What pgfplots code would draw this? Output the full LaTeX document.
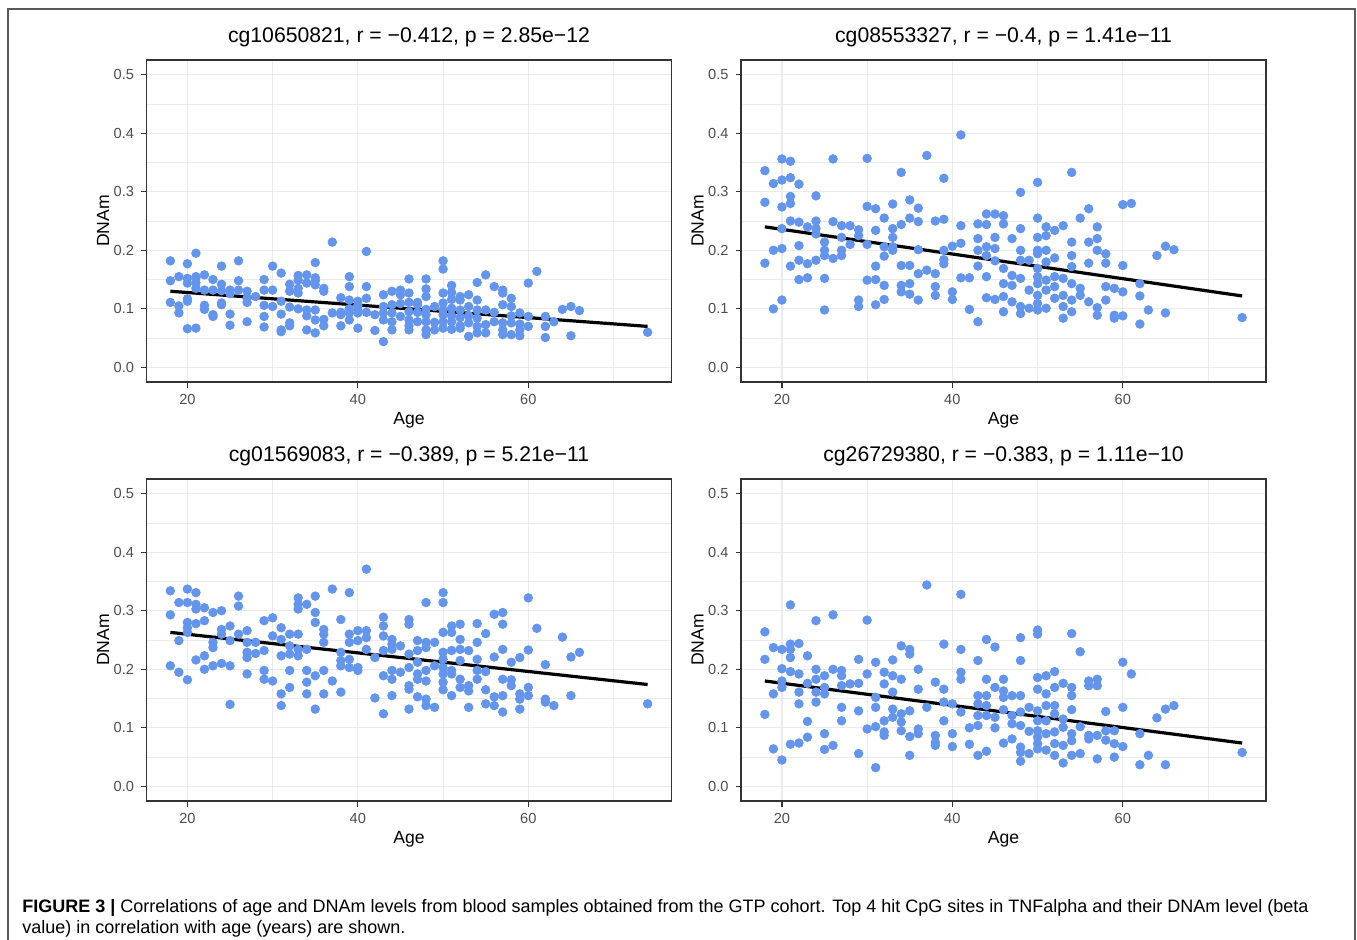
\documentclass[border=0pt]{standalone}
\usepackage{fontspec}
\setmainfont{Liberation Sans}
\usepackage{pgfplots}
\pgfplotsset{compat=1.18}
\definecolor{cfblue}{RGB}{100,149,237}
\definecolor{grid92}{RGB}{235,235,235}
\definecolor{grey20}{RGB}{51,51,51}
\definecolor{grey30}{RGB}{77,77,77}
\definecolor{framegray}{RGB}{90,90,90}

\pgfplotsset{
  panel/.style={
    scale only axis, width=262.5pt, height=161pt,
    xmin=15.2, xmax=76.8, ymin=-0.025, ymax=0.525,
    xtick={20,40,60}, minor xtick={30,50,70},
    ytick={0,0.1,0.2,0.3,0.4,0.5}, minor ytick={0.05,0.15,0.25,0.35,0.45},
    grid=both,
    major grid style={grid92, line width=0.6pt},
    minor grid style={grid92, line width=0.3pt},
    axis line style={grey20, line width=0.8pt},
    tick align=outside, tick pos=left,
    major tick length=2.75pt, minor tick length=0pt,
    tick style={grey20, line width=0.6pt},
    ticklabel style={font=\fontsize{7.3}{8}\selectfont, text=grey30},
    /pgf/number format/assume math mode=true,
    yticklabel style={/pgf/number format/fixed, /pgf/number format/fixed zerofill,
      /pgf/number format/precision=1},
    xlabel={Age}, ylabel={DNAm},
    label style={font=\fontsize{8.8}{10}\selectfont},
    xlabel style={at={(axis description cs:0.5,-0.1335)}, anchor=base},
    ylabel style={at={(axis description cs:-0.0714,0.5)}, anchor=base},
    title style={at={(axis description cs:0.5,1.0156)}, anchor=base,
      font=\fontsize{10.6}{12}\selectfont},
  },
  pts/.style={only marks, mark=*, mark size=2.15pt, cfblue, mark options={draw=cfblue, fill=cfblue}},
  fit/.style={black, line width=1.6pt, no marks},
}

\begin{document}
\begin{tikzpicture}
\useasboundingbox (0pt,0pt) rectangle (678.5pt,-469.5pt);
\draw[framegray, line width=0.75pt] (4pt,-470pt) -- (4pt,-4.5pt) -- (677.5pt,-4.5pt) -- (677.5pt,-470pt);

% top left
\begin{axis}[panel, at={(73.25pt,-191pt)}, anchor=south west,
  title={cg10650821, r = −0.412, p = 2.85e−12}]
\addplot[pts] coordinates {
(18,0.182) (18,0.148) (18,0.111) (19,0.155) (19,0.105) (19,0.093)
(20,0.177) (20,0.152) (20,0.144) (20,0.117) (20,0.113) (20,0.066)
(21,0.195) (21,0.155) (21,0.153) (21,0.144) (21,0.135) (21,0.067)
(22,0.158) (22,0.132) (22,0.106) (22,0.099) (23,0.150) (23,0.132) (23,0.090) (23,0.087)
(24,0.173) (24,0.142) (24,0.131) (24,0.110) (24,0.107) (25,0.132) (25,0.126) (25,0.091) (25,0.072)
(26,0.182) (26,0.148) (26,0.132) (27,0.130) (27,0.118) (27,0.111) (27,0.078) (28,0.121)
(29,0.150) (29,0.132) (29,0.106) (29,0.087) (29,0.069) (30,0.173) (30,0.132) (30,0.104)
(31,0.161) (31,0.113) (31,0.091) (31,0.064) (31,0.061) (32,0.142) (32,0.130) (32,0.103) (32,0.076) (32,0.071)
(33,0.157) (33,0.149) (33,0.135) (33,0.127) (33,0.100) (34,0.158) (34,0.144) (34,0.098) (34,0.088) (34,0.064)
(35,0.179) (35,0.153) (35,0.148) (35,0.141) (35,0.098) (35,0.081) (35,0.059)
(36,0.135) (36,0.130) (36,0.082) (36,0.071) (37,0.214) (37,0.093)
(38,0.119) (38,0.094) (38,0.090) (38,0.071) (39,0.155) (39,0.138) (39,0.115) (39,0.100) (39,0.093) (39,0.081)
(40,0.113) (40,0.106) (40,0.098) (40,0.093) (40,0.067) (41,0.198) (41,0.138) (41,0.118) (41,0.094)
(42,0.090) (42,0.063) (43,0.124) (43,0.104) (43,0.093) (43,0.081) (43,0.044)
(44,0.130) (44,0.107) (44,0.093) (44,0.078) (44,0.064) (45,0.132) (45,0.124) (45,0.109) (45,0.087)
(46,0.151) (46,0.127) (46,0.111) (46,0.095) (46,0.081) (46,0.071) (46,0.064)
(47,0.111) (47,0.107) (47,0.094) (47,0.078)
(48,0.151) (48,0.134) (48,0.121) (48,0.099) (48,0.090) (48,0.078) (48,0.064) (48,0.056)
(49,0.104) (49,0.077) (49,0.064)
(50,0.182) (50,0.168) (50,0.127) (50,0.110) (50,0.098) (50,0.090) (50,0.078) (50,0.067)
(51,0.140) (51,0.128) (51,0.116) (51,0.101) (51,0.088) (51,0.078) (51,0.065)
(52,0.121) (52,0.115) (52,0.098) (52,0.085) (52,0.071) (52,0.067)
(53,0.124) (53,0.104) (53,0.088) (53,0.076) (53,0.053)
(54,0.145) (54,0.115) (54,0.098) (54,0.084) (54,0.070) (54,0.059)
(55,0.158) (55,0.098) (55,0.073) (55,0.059) (56,0.138) (56,0.094) (56,0.078)
(57,0.132) (57,0.127) (57,0.107) (57,0.076) (57,0.064) (57,0.056)
(58,0.118) (58,0.104) (58,0.088) (58,0.076) (58,0.056) (59,0.093) (59,0.074) (59,0.064) (59,0.054)
(60,0.144) (60,0.087) (60,0.070) (61,0.164) (62,0.087) (62,0.070) (62,0.051) (63,0.078)
(64,0.099) (65,0.104) (65,0.054) (66,0.097) (74,0.060)
};
\addplot[fit] coordinates {(18,0.130) (74,0.070)};
\end{axis}

% top right
\begin{axis}[panel, at={(370.5pt,-191pt)}, anchor=south west,
  title={cg08553327, r = −0.4, p = 1.41e−11}]
\addplot[pts] coordinates {
(18,0.336) (18,0.282) (18,0.178) (19,0.314) (19,0.200) (19,0.100)
(20,0.356) (20,0.320) (20,0.274) (20,0.237) (20,0.203) (20,0.115)
(21,0.352) (21,0.324) (21,0.292) (21,0.280) (21,0.250) (21,0.173)
(22,0.313) (22,0.248) (22,0.208) (22,0.183) (22,0.150) (23,0.240) (23,0.177) (23,0.153)
(24,0.293) (24,0.250) (24,0.237) (24,0.228) (24,0.183)
(25,0.214) (25,0.200) (25,0.191) (25,0.152) (25,0.098) (26,0.356) (26,0.249) (26,0.186)
(27,0.242) (27,0.222) (27,0.200) (27,0.191) (28,0.242) (28,0.210)
(29,0.235) (29,0.225) (29,0.115) (29,0.104) (30,0.357) (30,0.275) (30,0.210) (30,0.149)
(31,0.271) (31,0.234) (31,0.173) (31,0.150) (31,0.107)
(32,0.255) (32,0.206) (32,0.190) (32,0.140) (32,0.116)
(33,0.279) (33,0.237) (33,0.222) (33,0.206) (33,0.200)
(34,0.333) (34,0.244) (34,0.174) (34,0.140) (34,0.129)
(35,0.286) (35,0.255) (35,0.174) (35,0.143) (35,0.125)
(36,0.272) (36,0.249) (36,0.201) (36,0.160) (36,0.115) (37,0.362) (37,0.166)
(38,0.250) (38,0.160) (38,0.138) (38,0.123) (39,0.323) (39,0.253) (39,0.200) (39,0.184) (39,0.177)
(40,0.207) (40,0.129) (40,0.116) (41,0.397) (41,0.242) (41,0.212) (41,0.153) (42,0.153) (42,0.099)
(43,0.245) (43,0.220) (43,0.200) (43,0.173) (43,0.078)
(44,0.262) (44,0.244) (44,0.206) (44,0.191) (44,0.155) (44,0.119)
(45,0.262) (45,0.222) (45,0.203) (45,0.182) (45,0.116)
(46,0.259) (46,0.245) (46,0.169) (46,0.143) (46,0.121) (46,0.095)
(47,0.220) (47,0.157) (47,0.140) (47,0.112)
(48,0.299) (48,0.237) (48,0.200) (48,0.183) (48,0.152) (48,0.104) (48,0.092)
(49,0.183) (49,0.132) (49,0.101)
(50,0.316) (50,0.255) (50,0.222) (50,0.200) (50,0.194) (50,0.169) (50,0.155) (50,0.143) (50,0.123) (50,0.109) (50,0.098)
(51,0.240) (51,0.225) (51,0.200) (51,0.180) (51,0.149) (51,0.132) (51,0.101)
(52,0.234) (52,0.187) (52,0.155) (52,0.138) (52,0.118)
(53,0.242) (53,0.152) (53,0.123) (53,0.104) (53,0.084)
(54,0.333) (54,0.214) (54,0.191) (54,0.172) (54,0.143) (54,0.115) (54,0.095)
(55,0.255) (55,0.135) (55,0.123) (56,0.271) (56,0.214) (56,0.178) (56,0.112)
(57,0.240) (57,0.220) (57,0.200) (57,0.102) (57,0.089) (58,0.194) (58,0.178) (58,0.138) (58,0.115)
(59,0.135) (59,0.089) (59,0.084) (60,0.278) (60,0.174) (60,0.129) (60,0.088) (61,0.280)
(62,0.143) (62,0.122) (62,0.074) (63,0.098) (64,0.191) (65,0.207) (65,0.093) (66,0.201) (74,0.085)
};
\addplot[fit] coordinates {(18,0.240) (74,0.122)};
\end{axis}

% bottom left
\begin{axis}[panel, at={(73.25pt,-400.5pt)}, anchor=south west,
  title={cg01569083, r = −0.389, p = 5.21e−11}]
\addplot[pts] coordinates {
(18,0.334) (18,0.293) (18,0.206) (19,0.314) (19,0.249) (19,0.195)
(20,0.337) (20,0.314) (20,0.280) (20,0.271) (20,0.263) (20,0.182)
(21,0.331) (21,0.311) (21,0.303) (21,0.278) (21,0.216) (22,0.305) (22,0.283) (22,0.223) (22,0.200)
(23,0.297) (23,0.246) (23,0.237) (23,0.206) (24,0.300) (24,0.268) (24,0.260) (24,0.210)
(25,0.274) (25,0.249) (25,0.206) (25,0.140) (26,0.325) (26,0.308) (26,0.260)
(27,0.266) (27,0.246) (27,0.229) (27,0.220) (27,0.192) (28,0.246) (28,0.227)
(29,0.283) (29,0.232) (29,0.198) (29,0.183) (30,0.288) (30,0.257) (30,0.180)
(31,0.271) (31,0.251) (31,0.223) (31,0.158) (31,0.138)
(32,0.260) (32,0.240) (32,0.226) (32,0.198) (32,0.169)
(33,0.322) (33,0.311) (33,0.303) (33,0.260) (33,0.234) (33,0.223)
(34,0.311) (34,0.234) (34,0.198) (34,0.178) (34,0.158)
(35,0.325) (35,0.297) (35,0.280) (35,0.189) (35,0.132)
(36,0.268) (36,0.260) (36,0.246) (36,0.198) (36,0.158) (37,0.337) (37,0.180)
(38,0.285) (38,0.229) (38,0.215) (38,0.206) (38,0.161)
(39,0.331) (39,0.260) (39,0.246) (39,0.217) (39,0.203)
(40,0.266) (40,0.249) (40,0.203) (40,0.198) (41,0.371) (41,0.266) (41,0.254) (41,0.234)
(42,0.220) (42,0.151) (43,0.289) (43,0.274) (43,0.257) (43,0.232) (43,0.189) (43,0.124)
(44,0.251) (44,0.243) (44,0.234) (44,0.198) (44,0.183) (44,0.155) (45,0.240) (45,0.195)
(46,0.285) (46,0.277) (46,0.226) (46,0.203) (46,0.172) (46,0.166) (46,0.132)
(47,0.249) (47,0.232) (47,0.212) (47,0.192) (47,0.183) (47,0.153)
(48,0.314) (48,0.246) (48,0.237) (48,0.198) (48,0.180) (48,0.149) (48,0.138)
(49,0.246) (49,0.206) (49,0.135)
(50,0.331) (50,0.314) (50,0.263) (50,0.229) (50,0.217) (50,0.203) (50,0.192) (50,0.178) (50,0.165)
(51,0.274) (51,0.263) (51,0.232) (51,0.198) (51,0.192) (51,0.155)
(52,0.277) (52,0.251) (52,0.234) (52,0.215) (52,0.183) (52,0.169)
(53,0.232) (53,0.172) (53,0.163) (53,0.135) (54,0.278) (54,0.246) (54,0.217) (54,0.198) (54,0.183)
(55,0.261) (55,0.196) (55,0.165) (55,0.141) (56,0.294) (56,0.221) (56,0.153) (56,0.138)
(57,0.297) (57,0.277) (57,0.234) (57,0.183) (57,0.155) (57,0.127)
(58,0.212) (58,0.182) (58,0.172) (59,0.220) (59,0.158) (59,0.149) (59,0.132)
(60,0.322) (60,0.233) (60,0.169) (60,0.155) (61,0.270) (62,0.208) (62,0.149) (62,0.144)
(63,0.138) (64,0.255) (65,0.221) (65,0.155) (66,0.229) (74,0.141)
};
\addplot[fit] coordinates {(18,0.263) (74,0.174)};
\end{axis}

% bottom right
\begin{axis}[panel, at={(370.5pt,-400.5pt)}, anchor=south west,
  title={cg26729380, r = −0.383, p = 1.11e−10}]
\addplot[pts] coordinates {
(18,0.264) (18,0.217) (18,0.123) (19,0.237) (19,0.158) (19,0.064)
(20,0.234) (20,0.201) (20,0.180) (20,0.169) (20,0.045)
(21,0.310) (21,0.243) (21,0.234) (21,0.220) (21,0.196) (21,0.072)
(22,0.244) (22,0.192) (22,0.161) (22,0.141) (22,0.074) (23,0.223) (23,0.176) (23,0.111) (23,0.084)
(24,0.283) (24,0.200) (24,0.183) (24,0.161) (24,0.144)
(25,0.189) (25,0.169) (25,0.158) (25,0.090) (25,0.063) (26,0.293) (26,0.200) (26,0.070)
(27,0.198) (27,0.189) (27,0.172) (27,0.135) (27,0.112) (28,0.175)
(29,0.217) (29,0.176) (29,0.129) (29,0.056) (30,0.284) (30,0.192) (30,0.098)
(31,0.212) (31,0.152) (31,0.135) (31,0.102) (31,0.032)
(32,0.195) (32,0.175) (32,0.112) (32,0.093) (32,0.087)
(33,0.216) (33,0.189) (33,0.161) (33,0.132) (33,0.118)
(34,0.240) (34,0.183) (34,0.124) (34,0.110) (34,0.095)
(35,0.234) (35,0.226) (35,0.129) (35,0.085) (35,0.053)
(36,0.200) (36,0.166) (36,0.098) (36,0.090) (37,0.344) (37,0.135)
(38,0.178) (38,0.087) (38,0.075) (38,0.070) (39,0.243) (39,0.166) (39,0.144) (39,0.112)
(40,0.141) (40,0.090) (40,0.068) (41,0.328) (41,0.234) (41,0.195) (41,0.183) (41,0.127)
(42,0.100) (42,0.072) (43,0.215) (43,0.155) (43,0.141) (43,0.121) (43,0.104) (43,0.053)
(44,0.251) (44,0.183) (44,0.155) (44,0.138) (44,0.121) (44,0.060)
(45,0.238) (45,0.169) (45,0.118) (45,0.100)
(46,0.183) (46,0.163) (46,0.152) (46,0.131) (46,0.074) (47,0.155) (47,0.121) (47,0.107) (47,0.081)
(48,0.254) (48,0.215) (48,0.155) (48,0.127) (48,0.104) (48,0.067) (48,0.058) (48,0.043)
(49,0.135) (49,0.094) (49,0.056)
(50,0.267) (50,0.260) (50,0.186) (50,0.166) (50,0.129) (50,0.112) (50,0.095) (50,0.084) (50,0.073) (50,0.064)
(51,0.189) (51,0.158) (51,0.138) (51,0.112) (51,0.090) (51,0.062)
(52,0.196) (52,0.169) (52,0.138) (52,0.124) (52,0.093) (52,0.073) (52,0.053)
(53,0.176) (53,0.115) (53,0.101) (53,0.070) (53,0.040)
(54,0.261) (54,0.169) (54,0.155) (54,0.131) (54,0.090) (54,0.078) (54,0.053)
(55,0.230) (55,0.102) (55,0.056) (56,0.180) (56,0.172) (56,0.087) (56,0.081)
(57,0.183) (57,0.172) (57,0.087) (57,0.047) (58,0.128) (58,0.095) (58,0.079)
(59,0.095) (59,0.073) (59,0.050) (60,0.212) (60,0.135) (60,0.068) (61,0.192)
(62,0.090) (62,0.037) (63,0.053) (64,0.117) (65,0.132) (65,0.037) (66,0.138) (74,0.058)
};
\addplot[fit] coordinates {(18,0.180) (74,0.074)};
\end{axis}

\node[anchor=base west, inner sep=0pt, font=\fontsize{9}{10}\selectfont] at (11pt,-456pt)
  {\textbf{FIGURE 3 |} Correlations of age and DNAm levels from blood samples obtained from the GTP cohort. Top 4 hit CpG sites in TNFalpha and their DNAm level (beta};
\node[anchor=base west, inner sep=0pt, font=\fontsize{9}{10}\selectfont] at (11pt,-466.5pt)
  {value) in correlation with age (years) are shown.};
\end{tikzpicture}
\end{document}
